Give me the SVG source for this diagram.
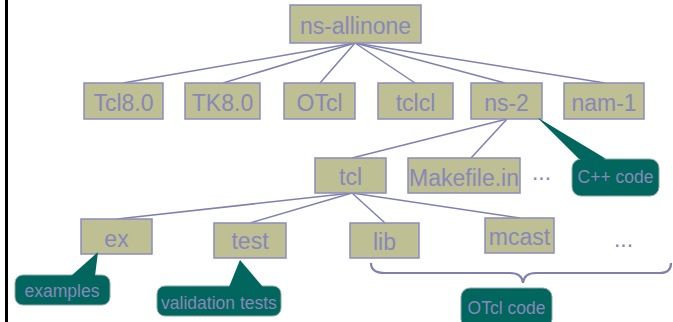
<svg xmlns="http://www.w3.org/2000/svg" width="673" height="322" viewBox="0 0 673 322">
<style>
.box{fill:#bebf93;stroke:#8c8cbe;stroke-width:1.5}
.lbl{font-family:"Liberation Sans",Arial,sans-serif;font-size:23px;fill:#8888b8;text-anchor:middle}
.co{fill:#00665e;stroke:#8fa8a8;stroke-width:1}
.ptr{fill:#00665e}
.ct{font-family:"Liberation Sans",Arial,sans-serif;font-size:17.5px;fill:#8888b8;text-anchor:middle}
.ln{stroke:#8080b0;stroke-width:1.5;fill:none}
</style>
<rect width="673" height="322" fill="#ffffff"/>
<rect x="5" y="0" width="3" height="322" fill="#000000"/>
<g id="connectors">
<line class="ln" x1="355" y1="43" x2="123" y2="83"/>
<line class="ln" x1="355" y1="43" x2="223" y2="83"/>
<line class="ln" x1="355" y1="43" x2="320" y2="83"/>
<line class="ln" x1="355" y1="43" x2="415" y2="83"/>
<line class="ln" x1="355" y1="43" x2="505" y2="83"/>
<line class="ln" x1="355" y1="43" x2="605" y2="83"/>
<line class="ln" x1="507" y1="119" x2="352" y2="158"/>
<line class="ln" x1="507" y1="119" x2="471" y2="158"/>
<line class="ln" x1="352" y1="193" x2="117" y2="219"/>
<line class="ln" x1="352" y1="193" x2="250" y2="223"/>
<line class="ln" x1="352" y1="193" x2="385" y2="223"/>
<line class="ln" x1="352" y1="193" x2="520" y2="218"/>
</g>
<g id="ns-allinone"><rect class="box" x="290" y="5" width="131" height="38"/><text class="lbl" x="355.5" y="33.5">ns-allinone</text></g>
<g id="tcl80"><rect class="box" x="84" y="83" width="79" height="36"/><text class="lbl" x="123.5" y="111">Tcl8.0</text></g>
<g id="tk80"><rect class="box" x="185" y="83" width="75" height="36"/><text class="lbl" x="222.5" y="111">TK8.0</text></g>
<g id="otcl"><rect class="box" x="284" y="83" width="71" height="36"/><text class="lbl" x="319.5" y="111">OTcl</text></g>
<g id="tclcl"><rect class="box" x="378" y="83" width="75" height="36"/><text class="lbl" x="415.5" y="111">tclcl</text></g>
<g id="ns2"><rect class="box" x="471" y="83" width="71" height="36"/><text class="lbl" x="506.5" y="111">ns-2</text></g>
<g id="nam1"><rect class="box" x="564" y="83" width="80" height="36"/><text class="lbl" x="604" y="111">nam-1</text></g>
<g id="tcl"><rect class="box" x="315" y="158" width="71" height="35"/><text class="lbl" x="350.5" y="185">tcl</text></g>
<g id="makefile"><rect class="box" x="408" y="158" width="112" height="35"/><text class="lbl" x="464" y="186">Makefile.in</text></g>
<g id="dots1"><text class="lbl" x="541.5" y="180">...</text></g>
<g id="cpp-code"><polygon class="ptr" points="538,118 580,160 608,160"/><rect class="co" x="572" y="159" width="87" height="37" rx="9"/><polygon class="ptr" points="538,118 582,161 607,161"/><text class="ct" x="615.5" y="183">C++ code</text></g>
<g id="ex"><rect class="box" x="81" y="219" width="71" height="35"/><text class="lbl" x="116.5" y="247">ex</text></g>
<g id="test"><rect class="box" x="214" y="223" width="72" height="35"/><text class="lbl" x="250" y="249">test</text></g>
<g id="lib"><rect class="box" x="350" y="223" width="69" height="35"/><text class="lbl" x="384.5" y="250">lib</text></g>
<g id="mcast"><rect class="box" x="485" y="218" width="69" height="35"/><text class="lbl" x="519.5" y="245">mcast</text></g>
<g id="dots2"><text class="lbl" x="623.5" y="247">...</text></g>
<g id="brace"><path d="M371,263 Q371,273 385,273 L510,273 Q522,273 523,283 Q524,273 536,273 L660,273 Q671,273 671,263" fill="none" stroke="#8080b0" stroke-width="2.2"/></g>
<g id="otcl-code"><rect class="co" x="461" y="288" width="91" height="40" rx="9"/><text class="ct" x="506.5" y="314">OTcl code</text></g>
<g id="examples"><rect class="co" x="15" y="275" width="95" height="30" rx="8"/><polygon class="ptr" points="98,252 71,276 95,276"/><text class="ct" x="62" y="297">examples</text></g>
<g id="validation"><rect class="co" x="157" y="286" width="124" height="30" rx="8"/><polygon class="ptr" points="240,260 229,287 263,287"/><text class="ct" x="219" y="309">validation tests</text></g>
</svg>
